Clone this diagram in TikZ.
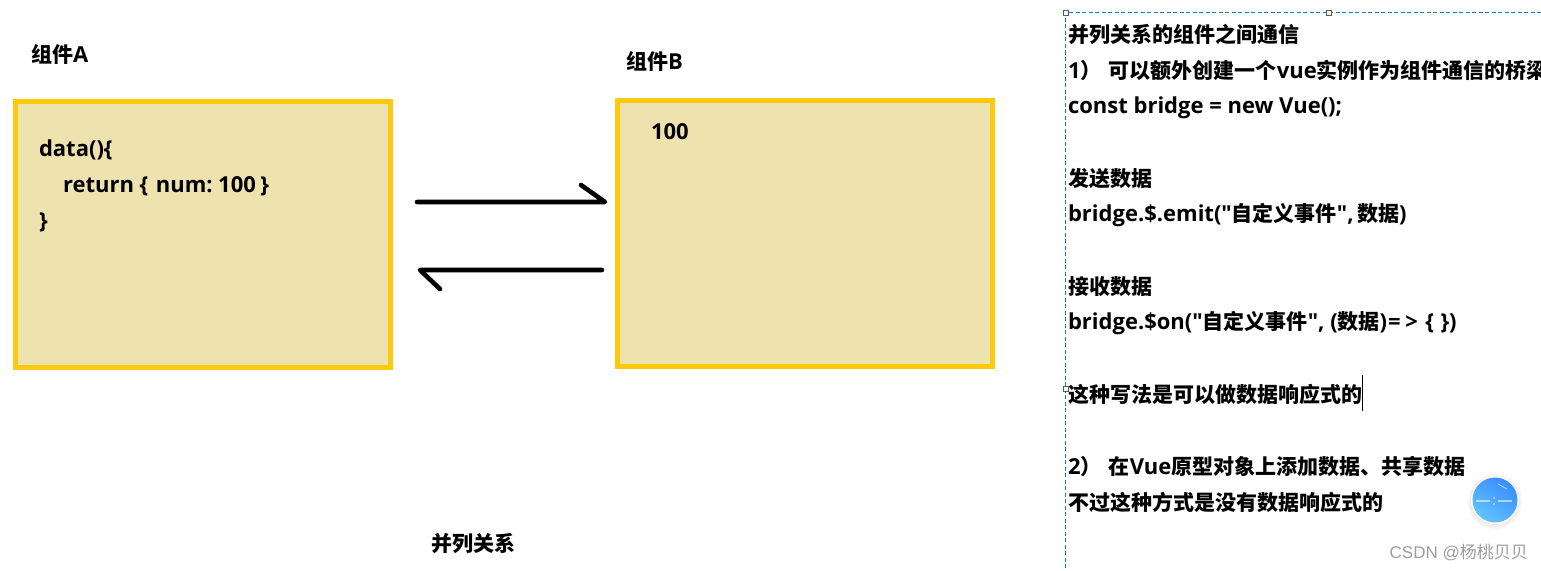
\documentclass[tikz,border=0pt]{standalone}
\usepackage{fontspec}
\setmainfont{Open Sans}[Scale=1.048,Ligatures=TeXOff]
\newfontfamily\cjk{Noto Sans CJK SC}
\newfontfamily\wmlatin{Liberation Sans}
\usetikzlibrary{shadings}
\definecolor{boxfill}{HTML}{EEE2AE}
\definecolor{boxline}{HTML}{FFC90E}
\definecolor{selblue}{HTML}{0A7BD6}
\definecolor{btntop}{HTML}{3A8CFF}
\definecolor{btnbot}{HTML}{62C4FF}
\newcommand{\C}[1]{{\cjk\bfseries #1}}
\tikzset{
  x=1pt,y=-1pt,
  compbox/.style={draw=boxline,fill=boxfill,line width=5pt,inner sep=0pt,outer sep=0pt,minimum width=375pt,minimum height=266pt,anchor=north west},
  txt/.style={anchor=base west,inner sep=0pt,outer sep=0pt,font=\fontsize{21pt}{24pt}\selectfont\bfseries,text=black},
  arrowline/.style={line width=4.6pt,line cap=round,line join=round,draw=black},
  handle/.style={draw=black!65,fill=white,line width=.8pt,minimum size=5pt,inner sep=0pt,shape=rectangle},
  selline/.style={draw=selblue,line width=1.1pt,dash pattern=on 4pt off 2.5pt},
}
\begin{document}
\begin{tikzpicture}
\useasboundingbox (0,0) rectangle (1541,570);
\fill[white] (0,0) rectangle (1541,570);

% boxes
\node[compbox] (boxA) at (15.5,101.5) {};
\node[compbox] (boxB) at (617.5,100.5) {};

% labels
\node[txt] (labelA) at (31,62.5) {\C{组件}A};
\node[txt] (labelB) at (626,69.5) {\C{组件}B};
\node[txt] (rel) at (431,551) {\C{并列关系}};

\node[txt] (a1) at (39,156) {data()\{};
\node[txt] (a2) at (63,192) {return \{\hspace{7.5pt}num:\hspace{5.5pt}100\hspace{4.5pt}\}};
\node[txt] (a3) at (39,228) {\}};
\node[txt] (b1) at (651,139) {100};

% arrows
\coordinate (r0) at (417,202);
\coordinate (r1) at (605,202);
\coordinate (r2) at (581,185);
\coordinate (l0) at (602,270);
\coordinate (l1) at (420,270);
\coordinate (l2) at (440,289);
\draw[arrowline] (r0) -- (r1) -- (r2);
\draw[arrowline] (l0) -- (l1) -- (l2);

% selection frame
\coordinate (s0) at (1065.5,12.5);
\coordinate (s1) at (1541,12.5);
\coordinate (s2) at (1065.5,570);
\draw[selline] (s1) -- (s0) -- (s2);
\node[handle] (h1) at (1065.5,12.5) {};
\node[handle] (h2) at (1328.5,12.5) {};
\node[handle] (h3) at (1065.5,388.5) {};

% right text
\node[txt] (t1) at (1068,42) {\C{并列关系的组件之间通信}};
\node[txt] (t2) at (1068,78) {1\C{）}\hspace{1.5pt}\ \C{可以额外创建一个}vue\C{实例作为组件通信的桥梁}};
\node[txt] (t3) at (1068,113.5) {const bridge = new Vue();};
\node[txt] (t4) at (1068,186) {\C{发送数据}};
\node[txt] (t5) at (1068,221.5) {bridge.\$.emit("\C{自定义事件}",\hspace{3.5pt}\C{数据})};
\node[txt] (t6) at (1068,294) {\C{接收数据}};
\node[txt] (t7) at (1068,329.5) {bridge.\$on("\C{自定义事件}", (\C{数据})\hspace{1pt}=\hspace{4.5pt}>\hspace{7.5pt}\{\hspace{6.5pt}\})};
\node[txt] (t8) at (1068,402) {\C{这种写法是可以做数据响应式的}};
\node[txt] (t9) at (1068,474) {2\C{）}\hspace{1.5pt}\ \C{在}Vue\C{原型对象上添加数据、共享数据}};
\node[txt] (t10) at (1068,510) {\C{不过这种方式是没有数据响应式的}};

% caret
\draw[black,line width=1pt] (1362.5,375) -- (1362.5,411);

% floating button
\fill[black,opacity=.03] (1495,502) circle (27);
\fill[black,opacity=.03] (1495,502) circle (25.5);
\fill[white] (1495,500) circle (24.5);
\draw[black!8,line width=.6pt] (1495,500) circle (24.5);
\shade[top color=btntop,bottom color=btnbot,shading angle=-35] (1495,500) circle (22.5);
\draw[white,opacity=.55,line width=1.2pt] (1476,501) -- (1490,501);
\draw[white,opacity=.55,line width=1.2pt] (1498,501) -- (1512,501);
\fill[white,opacity=.7] (1494,498) circle (.9);
\fill[white,opacity=.7] (1494,504) circle (.9);
\draw[white,opacity=.6,line width=.8pt] (1498,484) -- (1507,489);

% watermark
\node[anchor=base west,inner sep=0pt,text=black!38,font=\fontsize{17pt}{20pt}\selectfont] (wm) at (1389.5,558) {{\wmlatin CSDN @}{\cjk 杨桃贝贝}};
\end{tikzpicture}
\end{document}
